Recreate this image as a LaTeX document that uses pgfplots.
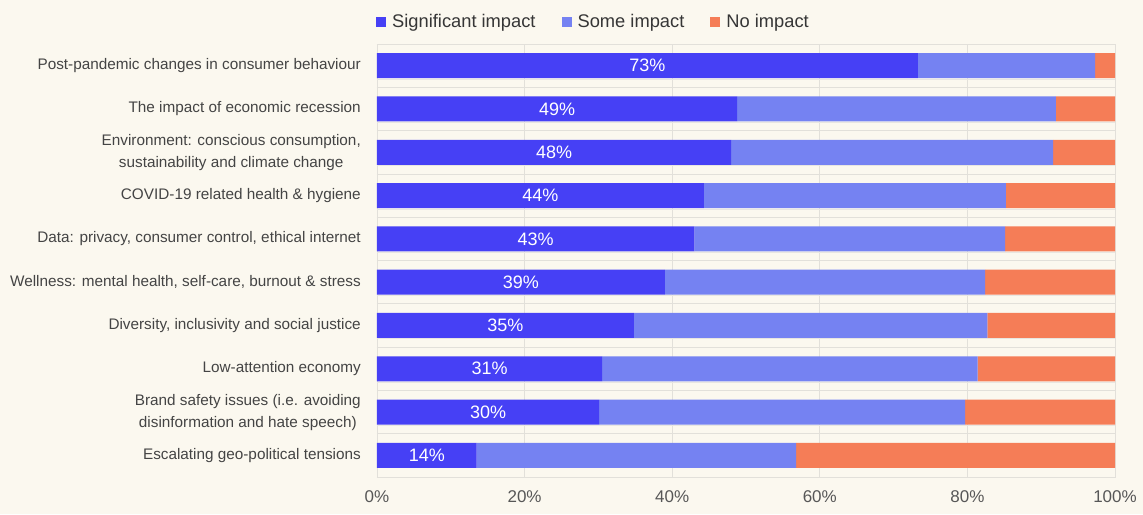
\documentclass[border=0pt]{standalone}
\usepackage{fontspec}
\setmainfont{Liberation Sans}
\usepackage{pgfplots}
\usepackage{pgfplotstable}
\pgfplotsset{compat=1.18}
\definecolor{bg}{HTML}{FBF8EF}
\definecolor{gridc}{HTML}{E2E0DA}
\definecolor{sigc}{HTML}{4640F5}
\definecolor{somec}{HTML}{7582F2}
\definecolor{noc}{HTML}{F57D57}
\definecolor{txt}{HTML}{444444}

\pgfplotstableread{
y sig some no lab
0 73.3 24.0 2.7 73
1 48.8 43.2 8.0 49
2 48.0 43.6 8.4 48
3 44.3 40.9 14.8 44
4 43.0 42.1 14.9 43
5 39.0 43.4 17.6 39
6 34.8 47.9 17.3 35
7 30.5 50.9 18.6 31
8 30.1 49.6 20.3 30
9 13.5 43.3 43.2 14
}\datatable

\begin{document}
\begin{tikzpicture}
\fill[bg] (-377pt,-37pt) rectangle (766pt,477pt);
\pgfplotsset{base/.style={scale only axis, width=738pt, height=433pt,
  xmin=0, xmax=100, ymin=-0.5, ymax=9.5, y dir=reverse,
  at={(0,0)}, anchor=south west,
  /pgf/number format/assume math mode=true}}
\begin{axis}[base, xbar stacked, bar width=25pt,
  axis line style={draw=gridc, line width=0.8pt},
  xtick={0,20,...,100},
  xticklabel={\pgfmathprintnumber{\tick}\%},
  xmajorgrids, grid style={draw=gridc, line width=0.8pt},
  major tick length=0pt, minor tick length=0pt,
  xticklabel style={font=\fontsize{17}{20}\selectfont, text=txt!90, inner sep=0pt, anchor=center, yshift=-20pt},
  ytick={0,...,9},
  yticklabels={Post-pandemic changes in consumer behaviour,
    The impact of economic recession,
    {Environment: conscious consumption,\\sustainability and climate change},
    COVID-19 related health \& hygiene,
    {Data: privacy, consumer control, ethical internet},
    {Wellness: mental health, self-care, burnout \& stress},
    {Diversity, inclusivity and social justice},
    Low-attention economy,
    {Brand safety issues (i.e. avoiding\\disinformation and hate speech)},
    Escalating geo-political tensions},
  yticklabel style={font=\fontsize{15.3}{22}\selectfont, text=txt, align=center, inner sep=0pt, xshift=-16pt},
  minor ytick={-0.5,0.5,...,9.5},
  yminorgrids, minor grid style={draw=gridc, line width=0.8pt},
  extra y ticks={0.31,1.31,...,8.31},
  extra y tick labels={},
  extra y tick style={grid=major, major grid style={draw=gridc!80, line width=0.8pt}},
  legend style={at={(0,1)}, anchor=west, yshift=22pt, xshift=-1pt, draw=none, fill=none, inner sep=0pt,
    font=\fontsize{18.3}{21}\selectfont, text=txt!80!black,
    /tikz/every odd column/.append style={column sep=4pt},
    /tikz/every even column/.append style={column sep=24pt}},
  legend columns=-1,
  legend image code/.code={\fill[#1] (0pt,-5pt) rectangle (10pt,5pt);},
]
\addplot[fill=sigc, draw=none] table[x=sig, y=y] {\datatable};
\addplot[fill=somec, draw=none] table[x=some, y=y] {\datatable};
\addplot[fill=noc, draw=none] table[x=no, y=y] {\datatable};
\legend{Significant impact, Some impact, No impact}
\end{axis}
\begin{axis}[base, hide axis]
\addplot[draw=none, nodes near coords={\pgfmathprintnumber[fixed,precision=0]{\pgfplotspointmeta}\%},
  point meta=\thisrow{lab},
  every node near coord/.append style={anchor=center, text=white, font=\fontsize{18}{20}\selectfont}]
  table[x expr=\thisrow{sig}/2, y=y] {\datatable};
\end{axis}
\end{tikzpicture}
\end{document}
